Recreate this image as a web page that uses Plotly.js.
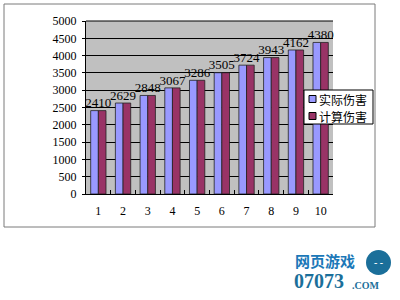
<!DOCTYPE html>
<html><head><meta charset="utf-8">
<script src="https://cdn.plot.ly/plotly-3.0.1.min.js"></script>
<style>html,body{margin:0;padding:0;background:#fff;}#c{width:400px;height:300px;}</style>
</head><body><div id="c"></div>
<script>
var categories = ['1','2','3','4','5','6','7','8','9','10'];
var actualDamage = [2410, 2629, 2848, 3067, 3286, 3505, 3724, 3943, 4162, 4380];
var calcDamage   = [2410, 2629, 2848, 3067, 3286, 3505, 3724, 3943, 4162, 4380];
var labelValues  = actualDamage;
var seriesNames = ['实际伤害', '计算伤害'];
var seriesColors = ['#9999FF', '#993366'];

var serif = '"Liberation Serif", "Noto Serif CJK SC", serif';
var cjk = '"Noto Sans CJK SC", sans-serif';

var traces = [
  {type:'bar', x:categories, y:actualDamage, name:seriesNames[0],
   marker:{color:seriesColors[0], line:{color:'#222', width:0.8}}},
  {type:'bar', x:categories, y:calcDamage, name:seriesNames[1],
   marker:{color:seriesColors[1], line:{color:'#222', width:0.8}}},
  {type:'scatter', mode:'text', x:categories, y:labelValues,
   text:labelValues.map(String), textposition:'top center',
   textfont:{family:serif, size:13, color:'#000'}, showlegend:false, hoverinfo:'skip', cliponaxis:false}
];

var L=86, R=333, T=21, B=194, W=R-L, H=B-T;
function px(x){return (x-L)/W;}
function py(y){return (B-y)/H;}

var shapes = [
  {type:'rect', xref:'paper', yref:'paper', x0:px(4), x1:px(375), y0:py(227), y1:py(4),
   line:{color:'#7a7a7a', width:1}, layer:'below'},
  {type:'line', xref:'paper', yref:'paper', x0:0, x1:1, y0:1, y1:1, line:{color:'#000', width:1}},
  {type:'rect', xref:'paper', yref:'paper', x0:px(304), x1:px(373), y0:py(124), y1:py(90),
   fillcolor:'#fff', line:{color:'#000', width:1}},
  {type:'circle', xref:'paper', yref:'paper', x0:px(366), x1:px(391), y0:py(275), y1:py(250),
   fillcolor:'#1b6f9a', line:{width:0}}
];
var annotations = [];
var rowY = [99, 116];
for (var i=0;i<seriesNames.length;i++){
  shapes.push({type:'rect', xref:'paper', yref:'paper', x0:px(309), x1:px(316),
    y0:py(rowY[i]+3.5), y1:py(rowY[i]-3.5), fillcolor:seriesColors[i], line:{color:'#000', width:1}});
  annotations.push({xref:'paper', yref:'paper', x:px(318), y:py(rowY[i]), xanchor:'left', yanchor:'middle',
    text:seriesNames[i], showarrow:false, borderpad:0, font:{family:cjk, size:12, color:'#000'}});
}
annotations.push(
  {xref:'paper', yref:'paper', x:px(293), y:py(260), xanchor:'left', yanchor:'middle',
   text:'<b>网页游戏</b>', showarrow:false, font:{family:cjk, size:15, color:'#1b78b8'}},
  {xref:'paper', yref:'paper', x:px(292), y:py(281), xanchor:'left', yanchor:'middle',
   text:'<b>07073</b>', showarrow:false, font:{family:serif, size:20, color:'#1b6f9a'}},
  {xref:'paper', yref:'paper', x:px(350), y:py(285), xanchor:'left', yanchor:'middle',
   text:'<b>.COM</b>', showarrow:false, font:{family:serif, size:10, color:'#1b6f9a'}},
  {xref:'paper', yref:'paper', x:px(378.5), y:py(262.5), xanchor:'center', yanchor:'middle',
   text:'<b>- -</b>', showarrow:false, font:{family:serif, size:10, color:'#fff'}}
);

var layout = {
  width:400, height:300,
  margin:{l:L, r:400-R, t:T, b:300-B, pad:0},
  paper_bgcolor:'#fff', plot_bgcolor:'#C0C0C0',
  barmode:'group', bargap:0.38, bargroupgap:0,
  showlegend:false,
  xaxis:{type:'category', showgrid:false, showline:true, linecolor:'#000', linewidth:1,
    ticks:'inside', tickson:'boundaries', ticklen:4, tickcolor:'#000',
    tickfont:{family:serif, size:12, color:'#000'}, ticklabelstandoff:6, fixedrange:true},
  yaxis:{range:[0,5000], dtick:500, showgrid:true, gridcolor:'#000', gridwidth:1,
    showline:true, linecolor:'#000', linewidth:1, ticks:'outside', ticklen:3, tickcolor:'#000',
    zeroline:false, tickfont:{family:serif, size:12, color:'#000'}, ticklabelstandoff:3, fixedrange:true},
  shapes:shapes,
  annotations:annotations
};

Plotly.newPlot('c', traces, layout, {displayModeBar:false, staticPlot:true});
</script></body></html>
